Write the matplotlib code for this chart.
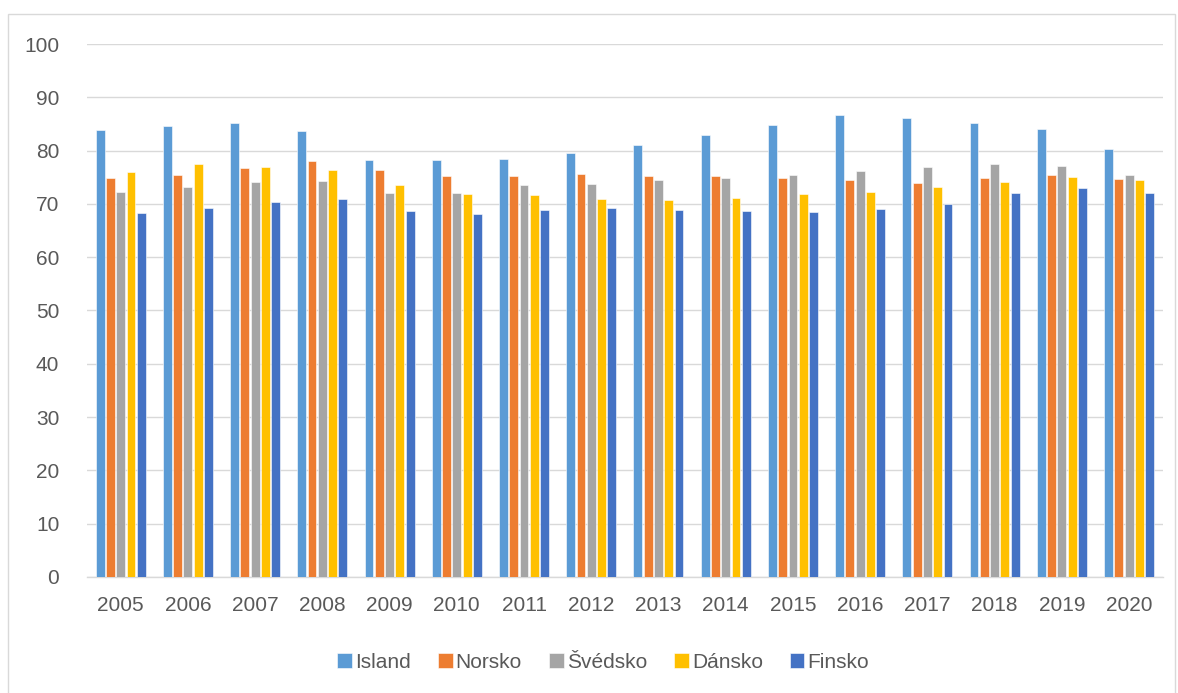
import numpy as np
import matplotlib
matplotlib.use("Agg")
from matplotlib import pyplot as plt
from matplotlib.patches import Rectangle

years = [str(y) for y in range(2005, 2021)]
island = [83.8, 84.6, 85.2, 83.6, 78.3, 78.2, 78.5, 79.6, 81.1, 83.0, 84.8, 86.6, 86.1, 85.2, 84.1, 80.3]
norsko = [74.8, 75.4, 76.8, 78.0, 76.4, 75.3, 75.3, 75.7, 75.3, 75.2, 74.8, 74.5, 74.0, 74.8, 75.5, 74.7]
svedsko = [72.3, 73.1, 74.2, 74.3, 72.1, 72.1, 73.6, 73.8, 74.4, 74.8, 75.5, 76.2, 76.9, 77.4, 77.1, 75.5]
dansko = [75.9, 77.4, 77.0, 76.4, 73.5, 71.8, 71.6, 71.0, 70.8, 71.1, 71.9, 72.3, 73.1, 74.1, 75.0, 74.4]
finsko = [68.3, 69.3, 70.3, 71.0, 68.6, 68.1, 68.9, 69.3, 68.8, 68.6, 68.4, 69.0, 69.9, 72.0, 73.0, 72.0]

series = [("Island", island, "#5B9BD5"),
          ("Norsko", norsko, "#ED7D31"),
          ("Švédsko", svedsko, "#A5A5A5"),
          ("Dánsko", dansko, "#FFC000"),
          ("Finsko", finsko, "#4472C4")]

plt.rcParams['font.family'] = ['Liberation Sans', 'DejaVu Sans']
txt = "#595959"

fig = plt.figure(figsize=(11.78, 6.93), dpi=100)
ax = fig.add_axes([0.0739, 0.1674, 0.9131, 0.7691])

x = np.arange(len(years))
pitch = 0.153
for i, (name, vals, col) in enumerate(series):
    ax.bar(x + (i - 2) * pitch, vals, width=0.132, color=col, label=name,
           edgecolor="white", linewidth=0.4, zorder=3)

ax.set_xlim(-0.5, len(years) - 0.5)
ax.set_ylim(0, 100)
ax.set_yticks(range(0, 101, 10))
ax.set_xticks(x)
ax.set_xticklabels(years)
ax.grid(axis="y", color="#d9d9d9", linewidth=1, zorder=0)
for s in ["top", "right", "left"]:
    ax.spines[s].set_visible(False)
ax.spines["bottom"].set_color("#d9d9d9")
ax.spines["bottom"].set_linewidth(1)
ax.tick_params(length=0, labelsize=15, colors=txt)
ax.tick_params(axis="x", pad=14)
ax.tick_params(axis="y", pad=20)

leg = ax.legend(loc="center", bbox_to_anchor=(0.48, -0.16), ncol=5, frameon=False,
                handlelength=0.7, handleheight=0.7, handletextpad=0.15,
                columnspacing=1.3, fontsize=15)
for t in leg.get_texts():
    t.set_color(txt)

fig.patches.append(Rectangle((8 / 1178, -0.01), 1167 / 1178, 1 - 14 / 693 + 0.01,
                             transform=fig.transFigure, fill=False,
                             edgecolor="#d9d9d9", linewidth=1))

fig.savefig("out.png", dpi=100)
